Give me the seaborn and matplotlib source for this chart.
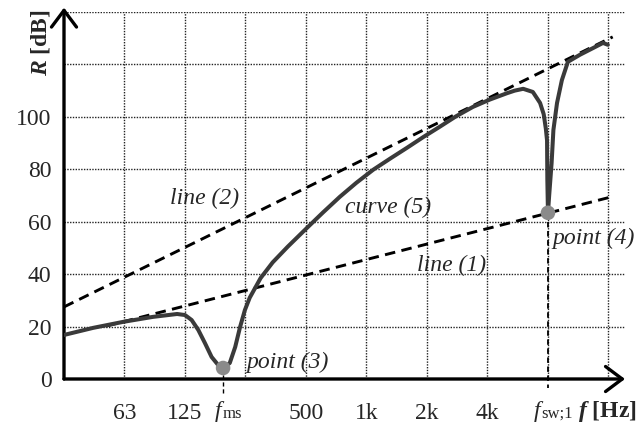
import matplotlib
matplotlib.use("Agg")
import matplotlib.pyplot as plt
import seaborn as sns
import pandas as pd

# curve (5): frequency [Hz] / R [dB]
curve_f = [31.25, 43.6, 61.6, 86.6, 114.2, 125, 134.9, 145.6, 157.1, 169.6, 183.0,
           193.4, 208.8, 222.2, 234.9, 248.3, 262.4, 297.3, 341.5, 406, 503.5, 607,
           737, 889, 1079, 1319, 1591, 1918, 2313, 2789, 3387, 4112, 4993, 5464,
           6022, 6728, 7310, 7620, 7807, 7917, 7944, 8000, 8112, 8341, 8515, 8876,
           9382, 10054, 11549, 13454, 15031, 15888]
curve_db = [16.8, 19.5, 21.8, 23.7, 24.8, 24.4, 22.5, 18.7, 13.7, 8.4, 5.3,
            4.2, 6.1, 12.2, 19.8, 26.3, 31.0, 38.5, 44.5, 50.5, 57.5, 63.5,
            69.5, 74.8, 79.8, 84.2, 88.2, 92.3, 96.2, 100.2, 103.8, 106.6, 109.0, 110.0,
            110.7, 109.5, 105.3, 101.0, 95.5, 91.0, 76.0, 63.4, 70.0, 82.4, 95.0, 105.3,
            114.0, 121.0, 123.7, 126.3, 128.2, 127.5]

# dashed straight lines
line1_f = [50.8, 16800]
line1_db = [20.2, 69.6]
line2_f = [31.25, 16800]
line2_db = [27.5, 130.5]

# marked points
point_f = [193.4, 8000]
point_db = [4.2, 63.4]

# axis ticks
x_ticks = [62.5, 125, 250, 500, 1000, 2000, 4000, 8000, 16000]
x_labels = ["63", "125", "", "500", "1k", "2k", "4k", "", ""]
y_ticks = [0, 20, 40, 60, 80, 100, 120, 140]
y_labels = ["0", "20", "40", "60", "80", "100", "", ""]

sns.set_style("white")
plt.rcParams["font.family"] = ["Liberation Serif", "DejaVu Serif"]
plt.rcParams["mathtext.fontset"] = "custom"
plt.rcParams["mathtext.rm"] = "Liberation Serif"
plt.rcParams["mathtext.it"] = "Liberation Serif:italic"
plt.rcParams["mathtext.bf"] = "Liberation Serif:bold"
plt.rcParams["mathtext.bfit"] = "Liberation Serif:italic:bold"

FS = 17

fig = plt.figure(figsize=(6.39, 4.23), dpi=100)
ax = fig.add_axes([64 / 639, 44 / 423, 561 / 639, 367 / 423])
ax.set_xscale("log", base=2)
ax.set_xlim(31.25, 19340)
ax.set_ylim(0, 140)

curve = pd.DataFrame({"f": curve_f, "R": curve_db})
sns.lineplot(data=curve, x="f", y="R", sort=False, estimator=None, color="#3a3a3a",
             linewidth=2.9, ax=ax, zorder=4, solid_capstyle="round", solid_joinstyle="round")
for lf, ldb in [(line1_f, line1_db), (line2_f, line2_db)]:
    sns.lineplot(x=lf, y=ldb, color="black", ax=ax, zorder=3)
    ln = ax.lines[-1]
    ln.set_linewidth(2.1)
    ln.set_linestyle((0, (3.6, 2.2)))

# dashed drop lines below the points
ax.plot([point_f[0], point_f[0]], [point_db[0], -5.3], color="black", lw=1.0,
        ls=(0, (3, 2)), clip_on=False, zorder=2)
ax.plot([point_f[1], point_f[1]], [point_db[1], -3.4], color="black", lw=1.3,
        ls=(0, (3, 2)), clip_on=False, zorder=2)

sns.scatterplot(x=point_f, y=point_db, color="#8a8a8a", s=110, edgecolor="none",
                ax=ax, zorder=5, clip_on=False)

ax.set_xticks(x_ticks, labels=x_labels)
ax.set_xticks([], minor=True)
ax.set_yticks(y_ticks, labels=y_labels)
ax.tick_params(axis="both", which="both", length=0, labelsize=FS)
ax.tick_params(axis="x", which="both", pad=17)
ax.tick_params(axis="y", pad=9)
ax.set_xlabel("")
ax.set_ylabel("")

ax.grid(True, which="major", ls=(0, (1, 1)), lw=1.0, color="#222222")
ax.set_axisbelow(True)
for s in ax.spines.values():
    s.set_visible(False)

# f_ms and f_sw;1 labels under the axis
xy_frac = ("data", "axes fraction")
base = -27.0
for f, sub, df, ds in [(point_f[0], "ms", -1.5, -0.5), (point_f[1], "sw;1", -5.5, -4.5)]:
    ax.annotate("f", xy=(f, 0), xycoords=xy_frac, xytext=(df, base), textcoords="offset points",
                fontsize=FS, style="italic", ha="right", va="baseline", annotation_clip=False)
    ax.annotate(sub, xy=(f, 0), xycoords=xy_frac, xytext=(ds, base - 1.0),
                textcoords="offset points", fontsize=12, ha="left", va="baseline",
                annotation_clip=False)

# axis arrows
arrow = dict(arrowstyle="->,head_length=0.6,head_width=0.45", lw=2.4, color="black",
             shrinkA=0, shrinkB=0, mutation_scale=20)
ax.annotate("", xy=(1.0, 0), xytext=(0, 0), xycoords="axes fraction", arrowprops=arrow)
ax.annotate("", xy=(0, 1.012), xytext=(0, 0), xycoords="axes fraction", arrowprops=arrow)

# labels on the chart
txt = dict(fontsize=FS, style="italic", ha="left", va="center")
ax.text(105, 68.7, "line (2)", **txt)
ax.text(779, 65.6, "curve (5)", **txt)
ax.text(1780, 43.5, "line (1)", **txt)
ax.text(254, 6.5, "point (3)", **txt)
ax.text(8400, 53.8, "point (4)", **txt)

fig.text(637 / 639, 1 - 411 / 423, r"$\mathbfit{f}$ [Hz]", fontsize=FS, fontweight="bold",
         ha="right", va="center")
fig.text(40 / 639, 1 - 43 / 423, r"$\mathbfit{R}$ [dB]", fontsize=FS, fontweight="bold",
         rotation=90, ha="center", va="center")

fig.savefig("out.png", dpi=100)
